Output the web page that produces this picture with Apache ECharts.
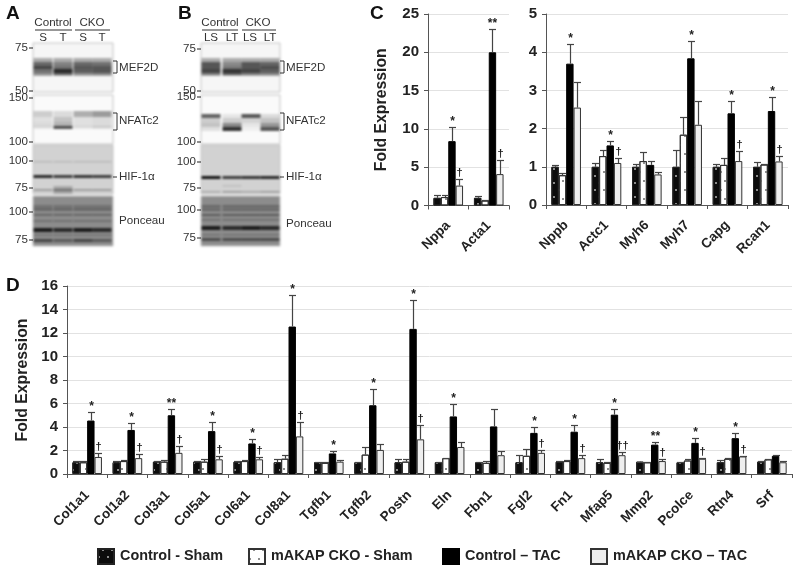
<!DOCTYPE html>
<html><head><meta charset="utf-8">
<style>html,body{margin:0;padding:0;background:#fff}
#blots,#main{position:absolute;left:0;top:0;width:800px;height:568px}
#blots{filter:blur(1.1px)}</style>
<script src="https://cdn.jsdelivr.net/npm/echarts@6/dist/echarts.min.js"></script>
</head><body><div id="blots"></div><div id="main"></div>
<script>
const seriesNames = ['Control - Sham','mAKAP CKO - Sham','Control – TAC','mAKAP CKO – TAC'];
const legendLefts = [92,243,437,585];

const catsC1 = ['Nppa','Acta1'];
const c1Sham = [1,1];
const c1CkoSham = [1.1,0.65];
const c1Tac = [8.4,20];
const c1CkoTac = [2.6,4.1];
const c1ShamTop = [1.35,1.2];
const c1CkoShamTop = [1.4,0.75];
const c1TacTop = [10.2,23];
const c1CkoTacTop = [3.4,5.9];
const c1TacMarks = ['*','**'];
const c1CkoMarks = ['†','†'];

const catsC2 = ['Nppb','Actc1','Myh6','Myh7','Capg','Rcan1'];
const c2Sham = [1,1,1,1,1,1];
const c2CkoSham = [0.78,1.28,1.15,1.84,1.05,1.06];
const c2Tac = [3.7,1.56,1.05,3.84,2.4,2.46];
const c2CkoTac = [2.55,1.1,0.8,2.1,1.15,1.14];
const c2ShamTop = [1.05,1.1,1.08,1.43,1.08,1.13];
const c2CkoShamTop = [0.85,1.45,1.38,2.31,1.23,1.08];
const c2TacTop = [4.22,1.68,1.15,4.3,2.72,2.83];
const c2CkoTacTop = [3.23,1.22,0.87,2.73,1.42,1.29];
const c2TacMarks = ['*','*','','*','*','*'];
const c2CkoMarks = ['','†','','','†','†'];

const catsD = ['Col1a1','Col1a2','Col3a1','Col5a1','Col6a1','Col8a1','Tgfb1','Tgfb2','Postn','Eln','Fbn1','Fgl2','Fn1','Mfap5','Mmp2','Pcolce','Rtn4','Srf'];
const dSham = [1,1,1.05,1.05,1.05,1,1,1,1,1,1,1,1.05,1,1.05,1,1,1.05];
const dCkoSham = [1,1.1,1.05,1.05,1.1,1.3,0.95,1.65,1.05,1.35,0.95,1.55,1.1,0.95,1,1.15,1.3,1.25];
const dTac = [4.55,3.75,5,3.65,2.6,12.55,1.75,5.85,12.35,4.9,4.05,3.5,3.6,5.05,2.5,2.65,3.05,1.55];
const dCkoTac = [1.45,1.35,1.8,1.25,1.25,3.2,1.05,2.05,2.95,2.3,1.6,1.8,1.35,1.6,1.1,1.3,1.5,1];
const dShamTop = [1.1,1.1,1.08,1.07,1.07,1.25,1.05,1.03,1.25,1.03,1.05,1.6,1.1,1.25,1.05,1.03,1.2,1.1];
const dCkoShamTop = [1.1,1.15,1.15,1.3,1.17,1.65,1.02,2.3,1.3,1.38,1.1,2.15,1.2,1,1.05,1.25,1.35,1.28];
const dTacTop = [5.25,4.3,5.5,4.4,3,15.2,1.95,7.25,14.85,6,5.5,4,4.2,5.55,2.7,3.1,3.5,1.65];
const dCkoTacTop = [1.8,1.7,2.35,1.5,1.45,4.4,1.2,2.55,4.2,2.75,1.95,2.05,1.6,1.85,1.25,1.4,1.5,1.1];
const dTacMarks = ['*','*','**','*','*','*','*','*','*','*','','*','*','*','**','*','*',''];
const dCkoMarks = ['†','†','†','†','†','†','','','†','','','†','†','††','†','†','†',''];

const FONT = 'Liberation Sans';
const BW = 7.4;
const styles = [
  {color:'#0c0c0c',borderColor:'#222',borderWidth:1,decal:{symbol:'rect',symbolSize:1,color:'#8a8a8a',dashArrayX:[[1.6,6.4],[0,4,1.6,2.4]],dashArrayY:[1.6,4.4]}},
  {color:'#ffffff',borderColor:'#333',borderWidth:1,decal:{symbol:'rect',symbolSize:1,color:'#8f8f8f',dashArrayX:[[1.2,6.8],[0,4,1.2,2.8]],dashArrayY:[1.2,6.8]}},
  {color:'#000000',borderColor:'#000',borderWidth:1},
  {color:'#eeeeee',borderColor:'#333',borderWidth:1}
];

const grids=[], xAxes=[], yAxes=[], series=[];
function addPanel(cats, vals, tops, tacMarks, ckoMarks, box, ymax, step, nameGap, labelMargin){
  const g = grids.length;
  grids.push(Object.assign({containLabel:false}, box));
  xAxes.push({type:'category',gridIndex:g,data:cats,
    axisLine:{lineStyle:{color:'#555',width:1}},
    axisTick:{show:true,length:4,lineStyle:{color:'#555',width:1}},
    axisLabel:{rotate:45,interval:0,margin:labelMargin,fontFamily:FONT,fontWeight:'bold',fontSize:13.5,color:'#222'},
    splitLine:{show:false}});
  yAxes.push({type:'value',gridIndex:g,min:0,max:ymax,interval:step,
    name:nameGap?'Fold Expression':'',nameLocation:'middle',nameGap:nameGap||0,
    nameTextStyle:{fontFamily:FONT,fontWeight:'bold',fontSize:15.8,color:'#222'},
    axisLine:{show:true,lineStyle:{color:'#555',width:1}},
    axisTick:{show:true,length:4,lineStyle:{color:'#555',width:1}},
    axisLabel:{margin:9,fontFamily:FONT,fontWeight:'bold',fontSize:15,color:'#222'},
    splitLine:{show:true,lineStyle:{color:'#e2e2e2',width:1}}});
  vals.forEach((v,i)=>{
    series.push({type:'bar',name:seriesNames[i],xAxisIndex:g,yAxisIndex:g,data:v,barWidth:BW,barGap:'0%',
      itemStyle:styles[i],silent:true,animation:false,z:3});
  });
  tops.forEach((t,i)=>{
    const marks = i===2?tacMarks:(i===3?ckoMarks:cats.map(()=>''));
    series.push({type:'custom',xAxisIndex:g,yAxisIndex:g,silent:true,animation:false,z:4,clip:false,
      data:t.map((top,k)=>[k,top,vals[i][k],marks[k]]),
      encode:{x:0,y:1},
      renderItem:(p,api)=>{
        const k=api.value(0), topV=api.value(1), base=api.value(2), mk=marks[k];
        const c0=api.coord([k,base]), c1=api.coord([k,topV]);
        const x=Math.round(c0[0]+(i-1.5)*BW)+0.5, y0=c0[1], y1=Math.round(c1[1])+0.5;
        const ls={stroke:'#444',lineWidth:1.2};
        const kids=[
          {type:'line',shape:{x1:x,y1:y0,x2:x,y2:y1},style:ls},
          {type:'line',shape:{x1:x-3.5,y1:y1,x2:x+3.5,y2:y1},style:ls}];
        if(mk) kids.push({type:'text',style:{text:mk,x:x,y:y1-(mk[0]==='*'?0:1),align:'center',verticalAlign:'bottom',
          font:'bold '+(mk[0]==='*'?12:11)+'px "'+FONT+'"',fill:'#222'}});
        return {type:'group',children:kids};
      }});
  });
}
addPanel(catsC1,[c1Sham,c1CkoSham,c1Tac,c1CkoTac],[c1ShamTop,c1CkoShamTop,c1TacTop,c1CkoTacTop],c1TacMarks,c1CkoMarks,
  {left:428,width:81,top:14,height:191.5},25,5,38,18);
addPanel(catsC2,[c2Sham,c2CkoSham,c2Tac,c2CkoTac],[c2ShamTop,c2CkoShamTop,c2TacTop,c2CkoTacTop],c2TacMarks,c2CkoMarks,
  {left:546,width:242,top:14,height:191},5,1,0,18);
addPanel(catsD,[dSham,dCkoSham,dTac,dCkoTac],[dShamTop,dCkoShamTop,dTacTop,dCkoTacTop],dTacMarks,dCkoMarks,
  {left:67,width:725,top:286,height:188},16,2,36,19);

const legends = seriesNames.map((n,i)=>({data:[{name:n,icon:'rect'}],left:legendLefts[i],top:543,itemWidth:16,itemHeight:15,itemGap:6,
  selectedMode:false,textStyle:{fontFamily:FONT,fontWeight:'bold',fontSize:14.4,color:'#222',padding:[1,0,0,1]}}));

const T=(text,x,y,o)=>Object.assign({type:'text',silent:true,style:Object.assign({text,x,y,align:'left',verticalAlign:'middle',font:'11.6px "'+FONT+'"',fill:'#333'},o||{})});
const L=(x1,y1,x2,y2,c,w)=>({type:'line',silent:true,shape:{x1,y1,x2,y2},style:{stroke:c||'#333',lineWidth:w||1}});
const big={font:'bold 19px "'+FONT+'"',fill:'#111'};
const center={align:'center'};
const num={align:'right'};
const gfx=[
  T('A',6,14,big),T('B',178,14,big),T('C',370,14,big),T('D',6,286,big)
];
function labelsFor(x0, right, ctrlX, ckoX, ul, sub, subX, mk, labels, brks){
  gfx.push(T('Control',ctrlX,23,center),T('CKO',ckoX,23,center));
  gfx.push(L(ul[0],30,ul[1],30,'#333',1.2),L(ul[2],30,ul[3],30,'#333',1.2));
  sub.forEach((s,i)=>gfx.push(T(s,subX[i],38,center)));
  mk.forEach(m=>{gfx.push(T(m[0],x0-5,m[1],num),L(x0-4,m[1],x0,m[1],'#333',1.1));});
  const tx=right+6;
  labels.forEach(l=>gfx.push(T(l[0],tx,l[1])));
  brks.forEach(b=>{gfx.push(L(right,b[0],right+4,b[0]),L(right+4,b[0],right+4,b[1]),L(right,b[1],right+4,b[1]));});
  gfx.push(L(right,177,right+4,177));
}
labelsFor(33,113,53,92,[35,72,75,110],['S','T','S','T'],[43,63,83,102],
  [['75',48],['50',91],['150',98],['100',142],['100',161],['75',188],['100',212],['75',240]],
  [['MEF2D',68],['NFATc2',121],['HIF-1α',177],['Ponceau',221]],[[61,73],[113,130]]);
labelsFor(201,280,220,258,[202,238,242,276],['LS','LT','LS','LT'],[211,232,250,270],
  [['75',49],['50',91],['150',97],['100',142],['100',162],['75',188],['100',210],['75',238]],
  [['MEF2D',68],['NFATc2',121],['HIF-1α',177],['Ponceau',224]],[[61,73],[113,130]]);

echarts.init(document.getElementById('main'),null,{renderer:'canvas'}).setOption({
  animation:false,backgroundColor:'transparent',
  legend:legends,grid:grids,xAxis:xAxes,yAxis:yAxes,series,graphic:{elements:gfx}
});

/* western-blot panels: stand-in artwork, no chart data */
const panelBg=[['#f6f6f6',43,49],['#fafafa',95,49],['#d2d2d2',145,49],['#8c8c8c',196,50]];
const b=[];
function R(x,y,w,h,fill,op){b.push({type:'rect',silent:true,shape:{x,y,width:w,height:h},style:{fill,opacity:op===undefined?1:op}});}
function blot(x0,w,lanes,cfg){
  panelBg.forEach(p=>{b.push({type:'rect',silent:true,shape:{x:x0,y:p[1],width:w,height:p[2]},style:{fill:p[0],stroke:'#c4c4c4',lineWidth:1}});});
  cfg.forEach(c=>{lanes.forEach((lx,i)=>{const a=c[2][i%c[2].length];R(lx-9.5,c[0],19,c[1],'#000',a);});});
}
blot(33,80,[43,63,83,102],[
 [58,18,[.3]],[62,4,[.4,.25,.4,.35]],[66,3,[.6,.35,.5,.5]],[69,4,[.35,.75,.45,.5]],[73,2,[.15,.4,.15,.2]],
 [111,6,[.18,.12,.3,.38]],[117,5,[.1,.22,.1,.12]],[122,5,[.12,.28,.1,.12]],[126,3,[.08,.65,.08,.12]],
 [161,1.5,[.12]],[175,3,[.8,.7,.75,.7]],[189,2,[.25,.35,.25,.25]],[186,8,[0,.2,0,0]],
 [205,4,[.18]],[209,1.5,[.35]],[214,1.5,[.35]],[220,2,[.2]],[228,4,[.8,.7,.8,.7]],[239,3,[.5,.35,.5,.35]],[234,2,[.15]]
]);
blot(201,79,[211,232,251,270],[
 [58,18,[.3]],[62,4,[.5,.2,.5,.42]],[66,3,[.5,.3,.5,.55]],[69,4,[.6,.7,.6,.45]],[73,2,[.25,.45,.25,.2]],
 [114,4,[.6,.08,.65,.12]],[118,5,[.18,.18,.15,.22]],[123,4,[.22,.45,.08,.4]],[127,4,[.1,.8,.04,.65]],
 [176,3,[.9,.7,.75,.8]],[191,1.5,[.2,.28,.22,.28]],[185,1.5,[0,.1,0,0]],
 [205,3,[.25]],[209,1.5,[.4]],[214,2,[.35]],[219,1.5,[.25]],[226,4,[.8,.7,.8,.7]],[238,3,[.45]],[234,1.5,[.2]]
]);
echarts.init(document.getElementById('blots'),null,{renderer:'canvas'}).setOption({animation:false,backgroundColor:'#fff',graphic:{elements:b}});
</script></body></html>
